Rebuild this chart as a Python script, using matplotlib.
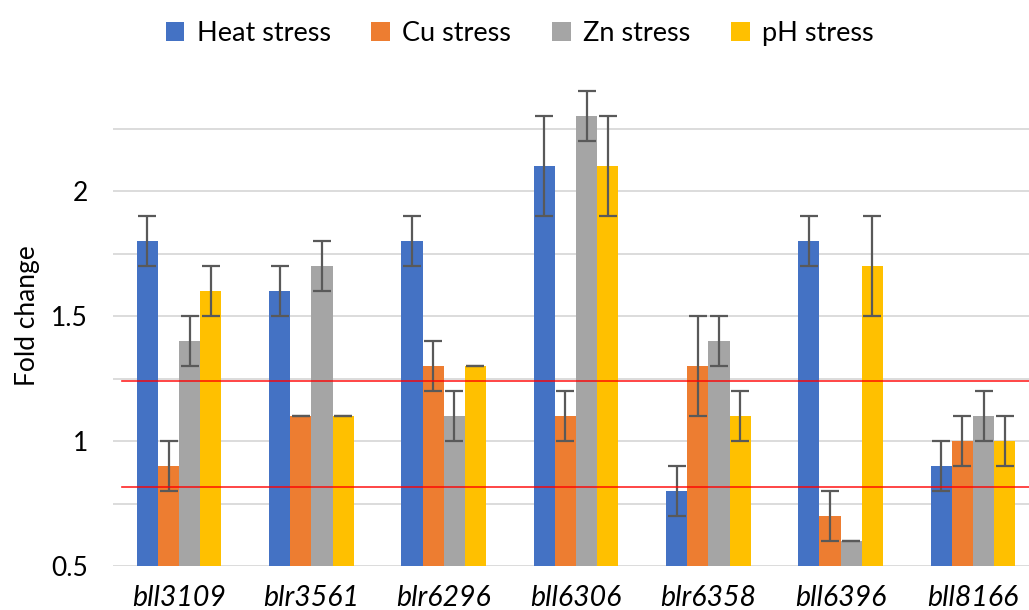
import matplotlib.pyplot as plt
import numpy as np

genes = ["bll3109", "blr3561", "blr6296", "bll6306", "blr6358", "bll6396", "bll8166"]
series = ["Heat stress", "Cu stress", "Zn stress", "pH stress"]
colors = ["#4472C4", "#ED7D31", "#A5A5A5", "#FFC000"]

heat = [1.8, 1.6, 1.8, 2.1, 0.8, 1.8, 0.9]
cu = [0.9, 1.1, 1.3, 1.1, 1.3, 0.7, 1.0]
zn = [1.4, 1.7, 1.1, 2.3, 1.4, 0.6, 1.1]
ph = [1.6, 1.1, 1.3, 2.1, 1.1, 1.7, 1.0]

heat_err = [0.1, 0.1, 0.1, 0.2, 0.1, 0.1, 0.1]
cu_err = [0.1, 0.0, 0.1, 0.1, 0.2, 0.1, 0.1]
zn_err = [0.1, 0.1, 0.1, 0.1, 0.1, 0.0, 0.1]
ph_err = [0.1, 0.0, 0.0, 0.2, 0.1, 0.2, 0.1]

thresholds = [1.24, 0.817]

plt.rcParams['font.family'] = ['Lato', 'DejaVu Sans']

fig = plt.figure(figsize=(10.29, 6.1), dpi=100)
ax = fig.add_axes([0.1098, 0.0721, 0.9, 0.8197])

x = np.arange(len(genes))
w = 0.16
values = [heat, cu, zn, ph]
errs = [heat_err, cu_err, zn_err, ph_err]
for i, (vals, err) in enumerate(zip(values, errs)):
    pos = x + (i - 1.5) * w
    ax.bar(pos, np.array(vals) - 0.5, w, bottom=0.5, color=colors[i], label=series[i], zorder=2)
    ax.errorbar(pos, vals, yerr=err, fmt='none', ecolor='#595959', elinewidth=1.6,
                capsize=6.5, capthick=1.6, zorder=3)

# threshold lines
for t in thresholds:
    ax.axhline(t, xmin=0.01, xmax=1, color='#FF0000', linewidth=1.2, alpha=0.85, zorder=4)

ax.set_xlim(-0.5, len(genes) - 0.5)
ax.set_ylim(0.5, 2.5)
ax.set_yticks([0.5, 1, 1.5, 2])
ax.set_yticklabels(["0.5", "1", "1.5", "2"])
ax.set_yticks([0.75, 1.25, 1.75, 2.25], minor=True)
ax.yaxis.grid(True, which='both', color='#D9D9D9', linewidth=1.3, zorder=0)
ax.set_axisbelow(True)
ax.tick_params(axis='y', which='both', length=0, pad=18, labelsize=19)
ax.set_xticks(x)
ax.set_xticklabels(genes, fontstyle='italic', fontsize=20.5)
ax.tick_params(axis='x', length=0, pad=14)
for s in ax.spines.values():
    s.set_visible(False)

ax.set_ylabel("Fold change", fontsize=19, labelpad=8)

fig.legend(loc='upper center', bbox_to_anchor=(0.505, 1.005), ncol=4, frameon=False,
           fontsize=19.5, handlelength=0.7, handleheight=0.7, handletextpad=0.45,
           columnspacing=1.5)

fig.savefig("out.png", dpi=100)
